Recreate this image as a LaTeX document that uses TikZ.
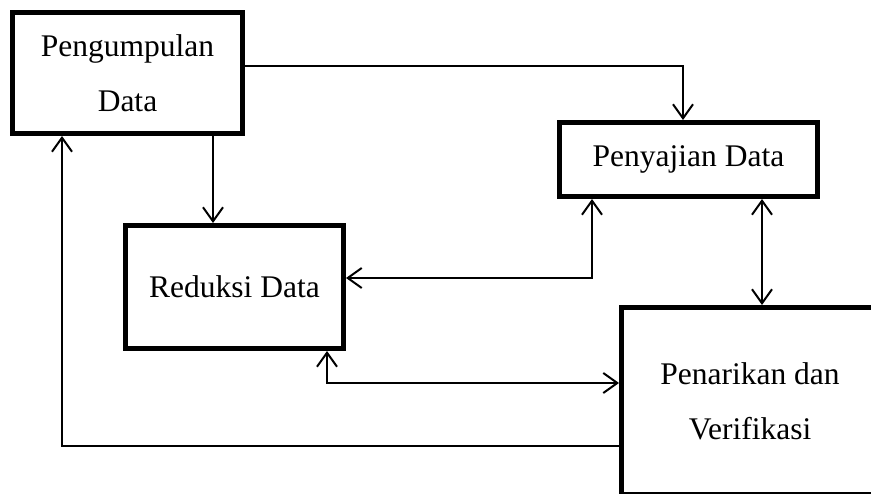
\documentclass[tikz,border=0pt]{standalone}
\usepackage{fontspec}
\setmainfont{Liberation Serif}
\usetikzlibrary{positioning, arrows.meta}

\tikzset{
    blok/.style={draw, line width=5pt, align=center, inner sep=0pt,
        font=\fontsize{31.5}{55}\selectfont},
    alur/.style={line width=2pt},
    >={Straight Barb[length=14pt, width=20pt]}
}

\begin{document}
\begin{tikzpicture}[x=1pt, y=-1pt]
        \useasboundingbox (0,0) rectangle (871,494);

        \node[blok, minimum width=230pt, minimum height=121pt] (pd) at (127.5,73) {Pengumpulan\\Data};

        \node[blok, minimum width=218pt, minimum height=123pt] (rd) [below = 87pt of pd, xshift=107pt] {Reduksi Data};
        \node[blok, minimum width=258pt, minimum height=74pt] (pj) [right = 312pt of pd, yshift=-86.5pt] {Penyajian Data};

        \node[blok, minimum width=257pt, minimum height=187pt] (pv) [below = 106pt of pj, xshift=61.5pt] {Penarikan dan\\Verifikasi};

        \draw[alur, ->] ([yshift=7pt]pd.east) -| ([xshift=-5.5pt]pj.north);
        \draw[alur, ->] ([xshift=85.5pt]pd.south) coordinate (pdr) -- (pdr |- rd.north);

        \draw[alur, <->] ([yshift=9pt]rd.east) -| ([xshift=-96.5pt]pj.south);
        \draw[alur, <->] ([xshift=73.5pt]pj.south) coordinate (pjv) -- (pjv |- pv.north);

        \draw[alur, <->] ([xshift=92.5pt]rd.south) |- ([yshift=18pt]pv.west);
        \draw[alur, ->] ([yshift=-45pt]pv.west) -| ([xshift=-65.5pt]pd.south);
    \end{tikzpicture}
\end{document}
